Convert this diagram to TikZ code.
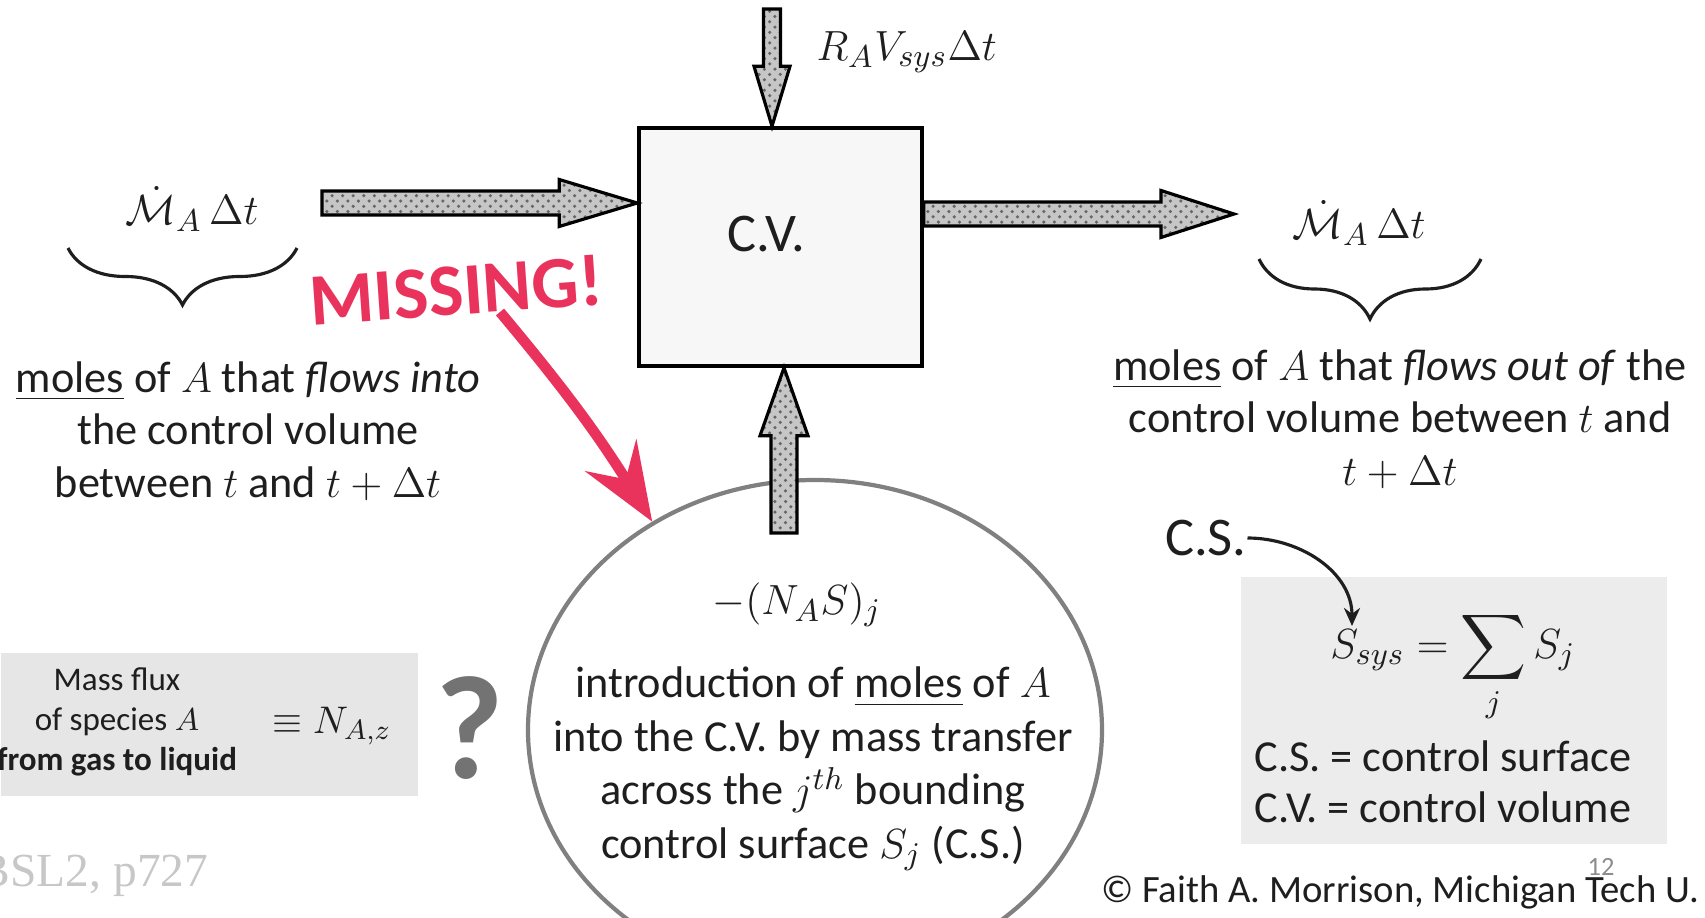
\documentclass[tikz,border=0pt]{standalone}
\usepackage{amsmath,amssymb}
\usepackage{fontspec}
\setmainfont{Carlito}
\newfontfamily\serfont{Liberation Serif}
\usetikzlibrary{arrows.meta,calc,patterns,shapes.geometric,decorations.pathreplacing}
\definecolor{ink}{HTML}{1E1E1E}
\definecolor{marker}{RGB}{233,50,92}
\definecolor{panel}{HTML}{E6E6E6}
\newcommand{\fatarrow}[5]{%
\path #1 coordinate (fas) #2 coordinate (fae);
\path ($(fae)!#5!(fas)$) coordinate (fah);
\path[fatarr] ($(fas)!#3!90:(fae)$)--($(fah)!#3!90:(fae)$)--($(fah)!#4!90:(fae)$)--(fae)
--($(fah)!#4!-90:(fae)$)--($(fah)!#3!-90:(fae)$)--($(fas)!#3!-90:(fae)$)--cycle;}

\begin{document}
\begin{tikzpicture}[>=Stealth,
fatarr/.style={draw=black,line width=0.9pt,preaction={fill=gray!45},pattern=crosshatch dots,pattern color=black!60},
txt/.style={text=ink,font=\fontsize{12.6}{15}\selectfont,align=center,inner sep=0pt},
small/.style={text=ink,font=\fontsize{9.4}{11.3}\selectfont,align=center,inner sep=0pt},
mathlab/.style={text=ink,font=\fontsize{13}{15}\selectfont,inner sep=0pt},
big/.style={text=ink,font=\fontsize{15.5}{18}\selectfont,inner sep=0pt},
curly/.style={decorate,decoration={brace,amplitude=#1},line width=0.9pt,draw=ink},
missing/.style={text=marker,font=\fontsize{21}{21}\selectfont\bfseries,inner sep=0pt}]
\clip (0,0) rectangle (17.05,-9.18);

\node[fill=panel,minimum width=4.17cm,minimum height=1.43cm,anchor=north west] (fluxbox) at (0,-6.52) {};
\node[fill=panel!75,minimum width=4.26cm,minimum height=2.67cm,anchor=north west] (sumbox) at (12.40,-5.76) {};

\node[draw=black,line width=1pt,fill=gray!6,minimum width=2.83cm,minimum height=2.38cm] (cv) at (7.805,-2.47) {};
\node[big] (cvlab) at (7.66,-2.34) {C.V.};

\node[ellipse,draw=gray,line width=1.2pt,minimum width=5.74cm,minimum height=5.0cm] (cs) at (8.15,-7.30) {};

\coordinate (topin) at (7.72,-0.09);
\coordinate (inflow) at (3.22,-2.03);
\coordinate (outflow) at (12.34,-2.14);
\coordinate (massin) at (7.84,-5.33);
\fatarrow{(topin)}{([xshift=-0.085cm]cv.north)}{0.085cm}{0.18cm}{0.6cm}
\fatarrow{(inflow)}{([yshift=0.44cm]cv.west)}{0.12cm}{0.235cm}{0.78cm}
\fatarrow{([yshift=0.33cm]cv.east)}{(outflow)}{0.12cm}{0.235cm}{0.73cm}
\fatarrow{(massin)}{([xshift=0.035cm]cv.south)}{0.13cm}{0.24cm}{0.68cm}

\node[mathlab,anchor=west] (genlab) at (8.16,-0.52) {$R_AV_{sys}\Delta t$};

\node[mathlab] (inlab) at (1.92,-2.09) {$\dot{\mathcal{M}}_A\,\Delta t$};
\draw[curly=0.57cm] (2.97,-2.48) -- (0.68,-2.48);
\node[txt] (intext) at (2.48,-4.31) {\underline{moles} of $A$ that \emph{flows into}\\the control volume\\between $t$ and $t+\Delta t$};

\node[mathlab] (outlab) at (13.59,-2.23) {$\dot{\mathcal{M}}_A\,\Delta t$};
\draw[curly=0.6cm] (14.81,-2.59) -- (12.59,-2.59);
\node[txt] (outtext) at (14.0,-4.19) {\underline{moles} of $A$ that \emph{flows out of} the\\control volume between $t$ and\\$t+\Delta t$};

\node[mathlab] (fluxlab) at (7.97,-6.05) {$-(N_AS)_j$};
\node[txt,font=\fontsize{12.6}{15.2}\selectfont] (cstext) at (8.13,-7.69) {introduction of \underline{moles} of $A$\\into the C.V. by mass transfer\\across the $j^{th}$ bounding\\control surface $S_j$ (C.S.)};

\node[missing,rotate=4] (miss) at (4.56,-2.9) {MISSING!};
\coordinate (missfoot) at (5.0,-3.12);
\draw[draw=marker,line width=3pt,-{Stealth[length=0.78cm,width=0.6cm,inset=0.28cm]}] (missfoot) to[bend left=4] (cs.128);

\node[small] (fluxtxt) at (1.17,-7.22) {Mass flux\\of species $A$\\\textbf{from gas to liquid}};
\node[mathlab,font=\fontsize{11}{13}\selectfont] (nflux) at (3.32,-7.26) {$\equiv N_{A,z}$};
\node[text=black!55,font=\fontsize{42}{42}\selectfont\bfseries,inner sep=0pt] (qmark) at (4.70,-7.28) {?};
\node[anchor=east,text=black!22,font=\serfont\fontsize{13.5}{14}\selectfont,inner sep=0pt] (bsl) at (2.09,-8.76) {BSL2, p727};

\node[big] (cslab) at (12.06,-5.38) {C.S.};
\coordinate (ssys) at (13.52,-6.26);
\draw[ink,line width=0.9pt,-{Stealth[length=0.18cm,width=0.16cm]}] (cslab.east) to[out=0,in=90] (ssys);
\node[mathlab,anchor=base] (sumeq) at (14.53,-6.58) {$\displaystyle S_{sys}=\sum_j S_j$};
\node[txt,font=\fontsize{12.6}{14.5}\selectfont] (legend) at (14.43,-7.82) {C.S. = control surface\\C.V. = control volume};

\node[anchor=east,text=ink,font=\fontsize{11}{13}\selectfont,inner sep=0pt] (copy) at (17.0,-8.92) {\textcopyright{} Faith A. Morrison, Michigan Tech U.};
\node[text=black!45,font=\fontsize{7.5}{8}\selectfont,inner sep=0pt] (pageno) at (16.01,-8.67) {12};
\end{tikzpicture}
\end{document}
